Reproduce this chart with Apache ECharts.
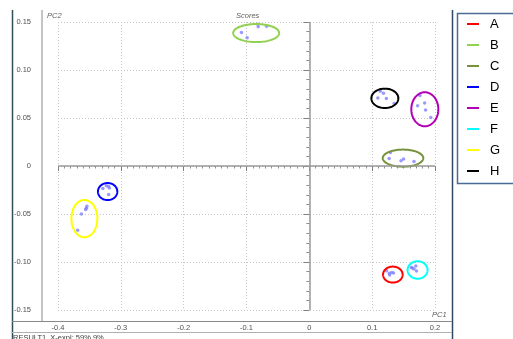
<!DOCTYPE html>
<html>
<head>
<meta charset="utf-8">
<script src="https://cdn.jsdelivr.net/npm/echarts@6/dist/echarts.min.js"></script>
<style>
  html, body { margin: 0; padding: 0; background: #fff; }
  #chart { width: 513px; height: 339px; }
</style>
</head>
<body>
<div id="chart"></div>
<script>
// PCA score groups (PC1, PC2)
const groupNames = ['A', 'B', 'C', 'D', 'E', 'F', 'G', 'H'];

const scoresA = [[0.1229, -0.1090], [0.1273, -0.1118], [0.1310, -0.1110], [0.1340, -0.1115], [0.1277, -0.1136]];
const scoresB = [[-0.108, 0.1390], [-0.099, 0.1335], [-0.082, 0.1476], [-0.0814, 0.1450], [-0.068, 0.1455]];
const scoresC = [[0.129, 0.0141], [0.127, 0.0077], [0.146, 0.0054], [0.150, 0.0073], [0.1666, 0.0047]];
const scoresD = [[-0.3286, -0.0234], [-0.323, -0.0206], [-0.3197, -0.0211], [-0.3183, -0.0230], [-0.3194, -0.0298]];
const scoresE = [[0.176, 0.0734], [0.1723, 0.0627], [0.1835, 0.0656], [0.185, 0.0583], [0.1933, 0.0504]];
const scoresF = [[0.1623, -0.1057], [0.1695, -0.1042], [0.1665, -0.1074], [0.1706, -0.1094], [0.1640, -0.1062]];
const scoresG = [[-0.354, -0.0420], [-0.355, -0.0440], [-0.356, -0.0453], [-0.3627, -0.0500], [-0.3687, -0.0670]];
const scoresH = [[0.113, 0.0778], [0.118, 0.0757], [0.109, 0.0708], [0.1226, 0.0703], [0.135, 0.0650]];

// Group ellipses: centre and half-axes in PC units
const ellipseCenterX = [0.1329, -0.0846, 0.1491, -0.321, 0.1838, 0.1723, -0.358, 0.1202];
const ellipseCenterY = [-0.1131, 0.1385, 0.0082, -0.0266, 0.0591, -0.1083, -0.0548, 0.0705];
const ellipseRadiusX = [0.0156, 0.0366, 0.0323, 0.0154, 0.0215, 0.0159, 0.0207, 0.0215];
const ellipseRadiusY = [0.0083, 0.0094, 0.0089, 0.0089, 0.0177, 0.0091, 0.0195, 0.0101];

// Axis ranges and ticks
const pc1Min = -0.4, pc1Max = 0.2, pc1Step = 0.1;
const pc2Min = -0.15, pc2Max = 0.15, pc2Step = 0.05;

const groupColors = ['#ff0000', '#92d050', '#77933c', '#0000ff', '#b400b4', '#00ffff', '#ffff00', '#000000'];
const allScores = [scoresA, scoresB, scoresC, scoresD, scoresE, scoresF, scoresG, scoresH];

const chart = echarts.init(document.getElementById('chart'), null, { renderer: 'canvas' });

function ellipseRender(params, api) {
  const c = api.coord([api.value(0), api.value(1)]);
  const s = api.size([api.value(2), api.value(3)]);
  const pts = [];
  const n = 90;
  for (let i = 0; i < n; i++) {
    const t = (i / n) * Math.PI * 2;
    pts.push([c[0] + s[0] * Math.cos(t), c[1] + s[1] * Math.sin(t)]);
  }
  return {
    type: 'polygon',
    shape: { points: pts },
    style: { fill: 'none', stroke: api.visual('color'), lineWidth: 2 }
  };
}

const ellipseSeries = groupNames.map((name, i) => ({
  name: name,
  type: 'custom',
  clip: false,
  silent: true,
  z: 4,
  itemStyle: { color: groupColors[i] },
  renderItem: ellipseRender,
  data: [[ellipseCenterX[i], ellipseCenterY[i], ellipseRadiusX[i], ellipseRadiusY[i]]]
}));

const labelFont = 'Liberation Sans, Arial, sans-serif';

const option = {
  animation: false,
  grid: { left: 58, right: 78, top: 22, bottom: 29, containLabel: false },
  xAxis: {
    type: 'value',
    min: pc1Min, max: pc1Max, interval: pc1Step,
    offset: 11,
    axisLine: { show: false },
    axisTick: { show: true, length: 5, lineStyle: { color: '#808080' } },
    minorTick: { show: true, splitNumber: 10, length: 2.5, lineStyle: { color: '#909090' } },
    axisLabel: {
      margin: 3, fontSize: 7.5, color: '#505050', fontFamily: labelFont,
      formatter: v => (Math.abs(v) < 1e-9 ? '0' : v.toFixed(1))
    },
    splitLine: { show: true, lineStyle: { color: '#c4c4c4', type: [1, 2], width: 1 } }
  },
  yAxis: {
    type: 'value',
    min: pc2Min, max: pc2Max, interval: pc2Step,
    offset: 16,
    axisLine: { show: false },
    axisTick: { show: true, length: 6, lineStyle: { color: '#808080' } },
    minorTick: { show: true, splitNumber: 5, length: 3, lineStyle: { color: '#909090' } },
    axisLabel: {
      margin: 11, fontSize: 7.5, color: '#505050', fontFamily: labelFont,
      formatter: v => (Math.abs(v) < 1e-9 ? '0' : v.toFixed(2))
    },
    splitLine: { show: true, lineStyle: { color: '#c4c4c4', type: [1, 2], width: 1 } }
  },
  legend: {
    orient: 'vertical',
    left: 467,
    top: 17,
    padding: 0,
    itemWidth: 12,
    itemHeight: 2,
    itemGap: 7,
    selectedMode: false,
    data: groupNames.map((n, i) => ({ name: n, icon: 'rect', itemStyle: { color: groupColors[i] } })),
    textStyle: { fontSize: 13, color: '#000', fontFamily: labelFont, lineHeight: 14, padding: [0, 0, 0, 6] }
  },
  graphic: [
    // outer frame and axis lines
    { type: 'line', silent: true, z: 1, shape: { x1: 12.5, y1: 10, x2: 12.5, y2: 339 }, style: { stroke: '#2f4f5a', lineWidth: 1.5 } },
    { type: 'line', silent: true, z: 1, shape: { x1: 452.5, y1: 10, x2: 452.5, y2: 339 }, style: { stroke: '#2f4a66', lineWidth: 1.5 } },
    { type: 'line', silent: true, z: 1, shape: { x1: 42, y1: 10, x2: 42, y2: 321 }, style: { stroke: '#8a8a8a', lineWidth: 1 } },
    { type: 'line', silent: true, z: 1, shape: { x1: 12, y1: 321.5, x2: 452, y2: 321.5 }, style: { stroke: '#8a8a8a', lineWidth: 1 } },
    { type: 'line', silent: true, z: 1, shape: { x1: 12, y1: 332.5, x2: 452, y2: 332.5 }, style: { stroke: '#b0b0b0', lineWidth: 1 } },
    // legend frame
    { type: 'rect', silent: true, z: 1, shape: { x: 457.5, y: 13.5, width: 70, height: 170 }, style: { fill: 'none', stroke: '#4a6b95', lineWidth: 1.5 } },
    // captions
    { type: 'text', silent: true, left: 47, top: 12, style: { text: 'PC2', font: 'italic 7.5px ' + labelFont, fill: '#606060' } },
    { type: 'text', silent: true, left: 236, top: 12, style: { text: 'Scores', font: 'italic 7.5px ' + labelFont, fill: '#606060' } },
    { type: 'text', silent: true, left: 432, top: 311, style: { text: 'PC1', font: 'italic 7.5px ' + labelFont, fill: '#606060' } },
    { type: 'text', silent: true, left: 13, top: 334, style: { text: 'RESULT1, X-expl: 59%,9%', font: '7.5px ' + labelFont, fill: '#404040' } }
  ],
  series: [
    {
      name: 'scores',
      type: 'scatter',
      symbol: 'circle',
      symbolSize: 3.5,
      z: 3,
      silent: true,
      itemStyle: { color: '#7f7fff' },
      data: [].concat(...allScores),
      markLine: {
        silent: true,
        symbol: 'none',
        label: { show: false },
        lineStyle: { color: '#9a9a9a', type: 'solid', width: 1.5 },
        data: [{ xAxis: 0 }, { yAxis: 0 }]
      }
    },
    ...ellipseSeries
  ]
};

chart.setOption(option);
</script>
</body>
</html>
